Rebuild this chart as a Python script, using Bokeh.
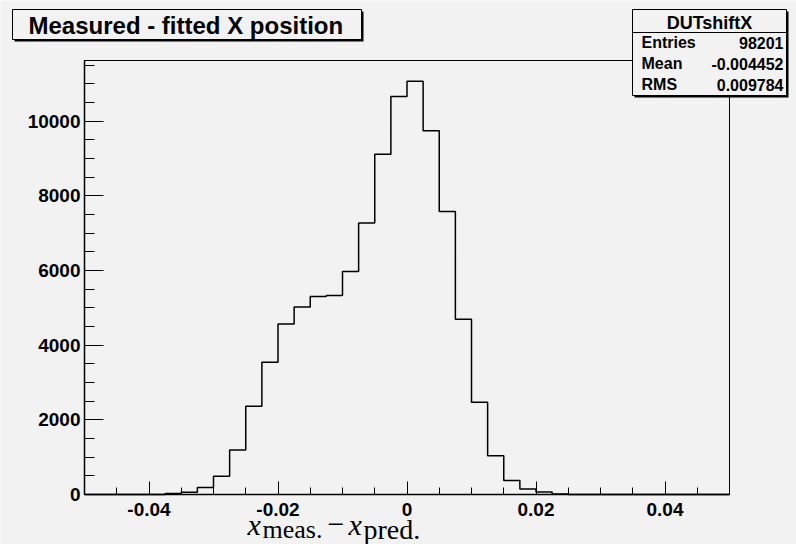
import numpy as np
from bokeh.plotting import figure
from bokeh.models import FixedTicker, Label, BoxAnnotation
from bokeh.embed import file_html
from bokeh.resources import INLINE

# ---------------- data ----------------
bin_start = -0.05
bin_width = 0.0025
counts = [0, 0, 0, 0, 0, 25, 60, 185, 490, 1190,
          2365, 3540, 4566, 5020, 5306, 5333, 5976, 7275, 9117, 10661,
          11071, 9743, 7582, 4691, 2469, 1041, 372, 148, 67, 15,
          0, 0, 0, 0, 0, 0, 0, 0, 0, 0]
x_ticks = [-0.04, -0.02, 0.0, 0.02, 0.04]
x_tick_labels = ["-0.04", "-0.02", "0", "0.02", "0.04"]
x_minor = [round(-0.05 + 0.005 * k, 4) for k in range(21)]
y_ticks = [0, 2000, 4000, 6000, 8000, 10000]
y_tick_labels = ["0", "2000", "4000", "6000", "8000", "10000"]
y_minor = [500 * k for k in range(24)]
title_text = "Measured - fitted X position"
stats_name = "DUTshiftX"
stats_keys = ["Entries", "Mean", "RMS"]
stats_vals = ["98201", "-0.004452", "0.009784"]

# ---------------- layout ----------------
W, H = 796, 544
FL, FR, FT, FB = 84, 729, 60, 494          # histogram frame in canvas pixels
X0, X1 = -0.05, 0.05
Y0, Y1 = 0, 11625
BG = "#f2f2f2"
SANS = "Liberation Sans"
SERIF = "Liberation Serif"


def px2x(px):
    return X0 + (px - FL) / (FR - FL) * (X1 - X0)


def py2y(py):
    return Y0 + (FB - py) / (FB - FT) * (Y1 - Y0)


# the plotting frame covers the whole canvas; the axes are pinned at the
# histogram frame edges with fixed_location and limited with bounds
p = figure(width=W, height=H, x_range=(px2x(0), px2x(W)), y_range=(py2y(H), py2y(0)),
           output_backend="svg", toolbar_location=None, min_border=0,
           min_border_left=0, min_border_right=0, min_border_top=0, min_border_bottom=0)
p.background_fill_color = BG
p.border_fill_color = BG
p.outline_line_color = None
p.grid.visible = False

# histogram frame
p.add_layout(BoxAnnotation(left=X0, right=X1, bottom=Y0, top=Y1,
                           fill_alpha=0.0, line_color="black", line_alpha=1.0,
                           line_width=1, line_dash="solid"))

# histogram outline
edges = bin_start + bin_width * np.arange(len(counts) + 1)
xs = np.repeat(edges, 2)[1:-1]
ys = np.repeat(np.array(counts, dtype=float), 2)
p.line(xs, ys, line_color="black", line_width=1.5)

# axes
xa = p.xaxis[0]
xa.fixed_location = Y0
xa.bounds = (X0, X1)
xa.ticker = FixedTicker(ticks=x_ticks, minor_ticks=x_minor)
xa.major_label_overrides = {t: l for t, l in zip(x_ticks, x_tick_labels)}
xa.major_tick_in = 13
xa.major_tick_out = 0
xa.minor_tick_in = 7
xa.minor_tick_out = 0
xa.major_label_standoff = 8
ya = p.yaxis[0]
ya.fixed_location = X0
ya.bounds = (Y0, Y1)
ya.ticker = FixedTicker(ticks=y_ticks, minor_ticks=y_minor)
ya.major_label_overrides = {t: l for t, l in zip(y_ticks, y_tick_labels)}
ya.major_tick_in = 19
ya.major_tick_out = 0
ya.minor_tick_in = 10
ya.minor_tick_out = 0
ya.major_label_standoff = 4
for ax in (xa, ya):
    ax.axis_line_color = "black"
    ax.axis_line_width = 1.5
    ax.major_tick_line_color = "black"
    ax.minor_tick_line_color = "black"
    ax.major_label_text_font = SANS
    ax.major_label_text_font_style = "bold"
    ax.major_label_text_font_size = "19px"
    ax.major_label_text_color = "black"


def box(l, t, r, b, fill, line=True):
    p.add_layout(BoxAnnotation(left=px2x(l), right=px2x(r), top=py2y(t), bottom=py2y(b),
                               fill_color=fill, fill_alpha=1.0,
                               line_color="black", line_alpha=1.0 if line else 0.0,
                               line_width=1, line_dash="solid"))


def label(text, px, py, size, style="bold", font=SANS, align="left"):
    # py is the wanted baseline in canvas pixels; empirical shift for the renderer
    shift = 0.29 * size
    p.add_layout(Label(x=px2x(px), y=py2y(py - shift), text=text, text_font=font,
                       text_font_style=style, text_font_size=f"{size}px",
                       text_color="black", text_align=align,
                       text_baseline="alphabetic"))


# title box with shadow
box(14, 11, 363, 41, "black", line=False)
box(12, 9, 361, 39, BG)
label(title_text, 28, 32, 24)

# stats box with shadow
box(634, 11, 788, 97, "black", line=False)
box(632, 9, 786, 95, BG)
box(632, 31.5, 786, 32.5, "black", line=False)
label(stats_name, 709, 28, 18, align="center")
for k, (key, val) in enumerate(zip(stats_keys, stats_vals)):
    label(key, 641, 47 + 21 * k, 16)
    label(val, 783, 47 + 21 * k, 16, align="right")

# x axis title x_meas. - x_pred.
label("x", 247, 533, 30, style="italic", font=SERIF)
label("meas.", 262, 537, 26, style="normal", font=SERIF)
label("\u2212", 327, 533, 30, style="normal", font=SERIF)
label("x", 348, 533, 30, style="italic", font=SERIF)
label("pred.", 363, 537, 28, style="normal", font=SERIF)

open("out.html", "w").write(file_html(p, INLINE))
